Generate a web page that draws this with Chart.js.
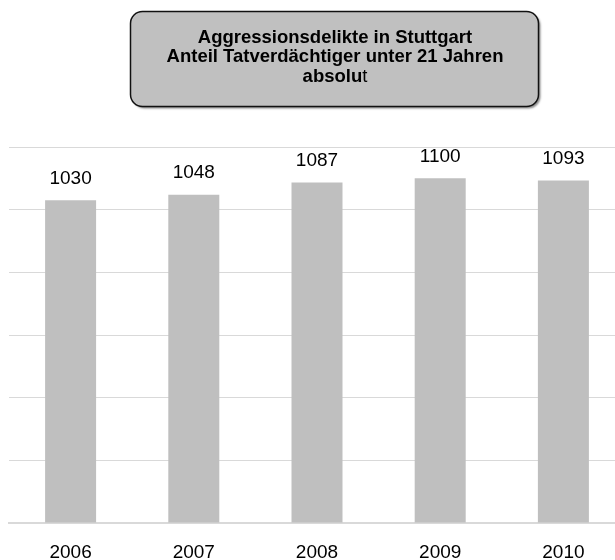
<!DOCTYPE html>
<html>
<head>
<meta charset="utf-8">
<script src="https://cdn.jsdelivr.net/npm/chart.js@4"></script>
<style>
    html, body { margin: 0; padding: 0; overflow: hidden; background: #fff; }
    #box { position: relative; width: 640px; height: 582px; }
</style>
</head>
<body>
<div id="box"><canvas id="chart"></canvas></div>
<script>
// Werte aus der Grafik
var jahre = ["2006", "2007", "2008", "2009", "2010"];
var tatverdaechtige = [1030, 1048, 1087, 1100, 1093];
var titelZeilen = ["Aggressionsdelikte in Stuttgart", "Anteil Tatverdächtiger unter 21 Jahren", "absolut"];

var schrift = "'Liberation Sans', Arial, sans-serif";

// Titel-Kasten oben
var titelKasten = {
    id: "titelKasten",
    afterDraw: function (chart) {
        var ctx = chart.ctx;
        ctx.save();
        ctx.shadowColor = "rgba(0,0,0,0.45)";
        ctx.shadowOffsetX = 2;
        ctx.shadowOffsetY = 2;
        ctx.shadowBlur = 2;
        ctx.beginPath();
        ctx.roundRect(130.5, 11.5, 408, 95, 12);
        ctx.fillStyle = "#c0c0c0";
        ctx.fill();
        ctx.shadowColor = "transparent";
        ctx.lineWidth = 1.5;
        ctx.strokeStyle = "#111";
        ctx.stroke();

        var gr = "18.5px ";
        ctx.fillStyle = "#000";
        ctx.textBaseline = "alphabetic";
        ctx.textAlign = "center";
        ctx.font = "bold " + gr + schrift;
        ctx.fillText(titelZeilen[0], 335, 42.5);
        ctx.fillText(titelZeilen[1], 335, 62);

        // letztes "t" von "absolut" ist nicht fett
        var teil1 = titelZeilen[2].slice(0, -1);
        var teil2 = titelZeilen[2].slice(-1);
        ctx.font = "bold " + gr + schrift;
        var w1 = ctx.measureText(teil1).width;
        ctx.font = gr + schrift;
        var w2 = ctx.measureText(teil2).width;
        var start = 335 - (w1 + w2) / 2;
        ctx.textAlign = "left";
        ctx.font = "bold " + gr + schrift;
        ctx.fillText(teil1, start, 81.5);
        ctx.font = gr + schrift;
        ctx.fillText(teil2, start + w1, 81.5);
        ctx.restore();
    }
};

// Zahlen über den Balken
var wertLabels = {
    id: "wertLabels",
    afterDatasetsDraw: function (chart) {
        var ctx = chart.ctx;
        var meta = chart.getDatasetMeta(0);
        ctx.save();
        ctx.fillStyle = "#000";
        ctx.font = "19px " + schrift;
        ctx.textAlign = "center";
        ctx.textBaseline = "alphabetic";
        meta.data.forEach(function (bar, i) {
            ctx.fillText(String(tatverdaechtige[i]), bar.x, bar.y - 16.5);
        });
        ctx.restore();
    }
};

new Chart(document.getElementById("chart"), {
    type: "bar",
    data: {
        labels: jahre,
        datasets: [
            {
                label: "Tatverdächtige unter 21",
                data: tatverdaechtige,
                backgroundColor: "#bfbfbf",
                borderWidth: 0,
                categoryPercentage: 1,
                barPercentage: 0.414,
            },
        ],
    },
    options: {
        responsive: true,
        maintainAspectRatio: false,
        animation: false,
        layout: {
            padding: { left: 9, right: 15, top: 147, bottom: 0 }
        },
        plugins: {
            legend: { display: false },
            title: { display: false },
            tooltip: { enabled: false },
        },
        scales: {
            x: {
                grid: { display: false, drawTicks: false },
                border: { display: true, color: "#d9d9d9", width: 2 },
                ticks: {
                    color: "#000",
                    padding: 20,
                    font: { family: schrift, size: 19, lineHeight: 1 },
                    maxRotation: 0,
                },
            },
            y: {
                min: 0,
                max: 1200,
                ticks: { display: false, stepSize: 200 },
                grid: { color: "#d9d9d9", lineWidth: 1, drawTicks: false },
                border: { display: false },
            },
        },
    },
    plugins: [titelKasten, wertLabels],
});
</script>
</body>
</html>
